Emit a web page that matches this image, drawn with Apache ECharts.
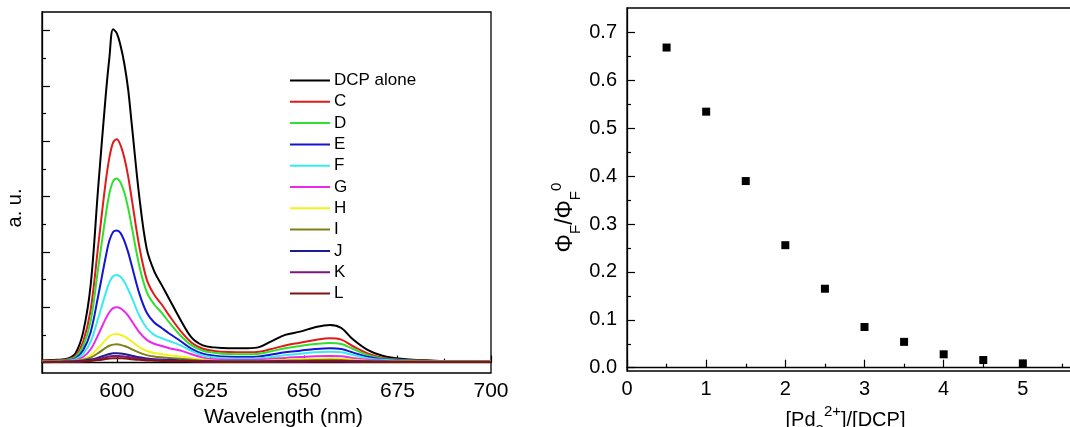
<!DOCTYPE html>
<html>
<head>
<meta charset="utf-8">
<script src="https://cdn.jsdelivr.net/npm/echarts@6/dist/echarts.min.js"></script>
<style>html,body{margin:0;padding:0;background:#fff;}#c{width:1070px;height:427px;}</style>
</head>
<body>
<div id="c"></div>
<script>
// ---------- Data (left panel: emission spectra) ----------
const wavelengths = [580,584,587,589,591,593,595,597,598,599,600,601,602,603,604,606,608,610,612,614,617,620,623,626,630,635,638,641,645,649,653,657,660,663,667,671,676,685,700];
const dcpAlone = [0.08,0.10,0.15,0.35,1.1,2.8,6.3,9.6,11.0,12.05,11.9,11.45,10.8,9.9,8.6,6.0,4.1,3.3,2.8,2.3,1.55,0.9,0.62,0.55,0.52,0.52,0.56,0.75,1.0,1.12,1.28,1.36,1.25,0.85,0.46,0.25,0.14,0.07,0.05];
const specC = [0.07,0.08,0.12,0.25,0.75,1.9,4.2,6.5,7.4,7.95,8.07,7.85,7.4,6.75,5.9,4.2,3.0,2.45,2.1,1.7,1.15,0.72,0.5,0.42,0.38,0.37,0.39,0.48,0.62,0.72,0.82,0.88,0.83,0.6,0.33,0.18,0.1,0.06,0.05];
const specD = [0.06,0.07,0.1,0.2,0.6,1.5,3.4,5.3,6.1,6.55,6.65,6.5,6.15,5.6,4.9,3.5,2.55,2.1,1.8,1.45,0.98,0.62,0.43,0.36,0.31,0.30,0.32,0.40,0.52,0.6,0.67,0.71,0.67,0.5,0.28,0.15,0.09,0.05,0.05];
const specE = [0.05,0.06,0.08,0.15,0.45,1.1,2.4,3.8,4.4,4.72,4.77,4.68,4.4,4.0,3.5,2.5,1.8,1.45,1.25,1.05,0.78,0.5,0.32,0.25,0.21,0.2,0.22,0.28,0.37,0.43,0.49,0.52,0.49,0.37,0.21,0.12,0.08,0.05,0.05];
const specF = [0.05,0.05,0.07,0.12,0.32,0.75,1.6,2.5,2.9,3.12,3.17,3.1,2.92,2.65,2.35,1.7,1.25,1.0,0.88,0.78,0.62,0.42,0.26,0.19,0.15,0.15,0.16,0.2,0.27,0.32,0.37,0.39,0.37,0.28,0.16,0.1,0.07,0.05,0.05];
const specG = [0.04,0.05,0.06,0.09,0.2,0.48,1.0,1.58,1.82,1.97,2.0,1.96,1.85,1.7,1.5,1.1,0.82,0.68,0.6,0.52,0.44,0.3,0.18,0.12,0.09,0.09,0.1,0.13,0.17,0.2,0.23,0.24,0.23,0.17,0.1,0.07,0.05,0.04,0.04];
const specH = [0.04,0.04,0.05,0.07,0.12,0.26,0.52,0.82,0.95,1.02,1.03,1.0,0.95,0.86,0.76,0.56,0.42,0.35,0.31,0.27,0.22,0.16,0.1,0.07,0.06,0.06,0.06,0.08,0.1,0.12,0.14,0.15,0.14,0.1,0.07,0.05,0.04,0.04,0.04];
const specI = [0.04,0.04,0.05,0.06,0.1,0.18,0.34,0.53,0.61,0.65,0.66,0.64,0.6,0.55,0.48,0.36,0.27,0.22,0.19,0.17,0.14,0.1,0.07,0.05,0.05,0.05,0.05,0.06,0.07,0.08,0.09,0.1,0.09,0.07,0.05,0.04,0.04,0.04,0.04];
const specJ = [0.03,0.03,0.04,0.05,0.07,0.11,0.18,0.27,0.31,0.34,0.34,0.33,0.31,0.28,0.25,0.19,0.15,0.12,0.11,0.1,0.08,0.06,0.05,0.04,0.04,0.04,0.04,0.04,0.05,0.05,0.06,0.06,0.06,0.05,0.04,0.04,0.03,0.03,0.03];
const specK = [0.02,0.02,0.03,0.04,0.05,0.08,0.13,0.19,0.22,0.24,0.24,0.23,0.22,0.2,0.18,0.14,0.11,0.09,0.08,0.07,0.06,0.05,0.04,0.03,0.03,0.03,0.03,0.03,0.04,0.04,0.05,0.05,0.05,0.04,0.03,0.03,0.02,0.02,0.02];
const specL = [0.02,0.02,0.02,0.03,0.04,0.06,0.09,0.13,0.15,0.16,0.16,0.16,0.15,0.14,0.12,0.1,0.08,0.07,0.06,0.05,0.05,0.04,0.03,0.03,0.02,0.02,0.02,0.03,0.03,0.03,0.04,0.04,0.04,0.03,0.03,0.02,0.02,0.02,0.02];
const seriesNames = ['DCP alone','C','D','E','F','G','H','I','J','K','L'];
const seriesValues = [dcpAlone,specC,specD,specE,specF,specG,specH,specI,specJ,specK,specL];
const seriesColors = ['#000000','#e21a1a','#2fe02f','#1414d2','#36ecf0','#ec28ec','#f2f21e','#808018','#1c1c90','#7e167e','#801414'];
const wlMajorTicks = [600,625,650,675,700];
const wlMinorTicks = [587.5,612.5,637.5,662.5,687.5];
const auMajorTicks = [0,2,4,6,8,10,12];
const auMinorTicks = [1,3,5,7,9,11];

// ---------- Data (right panel: quantum yield ratio) ----------
const ratioX = [0.5,1,1.5,2,2.5,3,3.5,4,4.5,5];
const ratioY = [0.669,0.535,0.390,0.256,0.165,0.085,0.054,0.028,0.016,0.009];
const ratioMajorTicks = [0,0.1,0.2,0.3,0.4,0.5,0.6,0.7];
const ratioMinorTicks = [0.05,0.15,0.25,0.35,0.45,0.55,0.65];

const FONT = 'Liberation Sans, Arial, sans-serif';
const axisLine = {show:true, lineStyle:{color:'#000', width:1.3}};

const lineSeries = seriesNames.map((n,i)=>({
  name:n, type:'line', xAxisIndex:0, yAxisIndex:0,
  data: wavelengths.map((w,k)=>[w, seriesValues[i][k]]),
  symbol:'none', smooth:0.35,
  lineStyle:{color:seriesColors[i], width:2},
  itemStyle:{color:seriesColors[i]},
  z: 2 + i
}));

const option = {
  animation:false,
  backgroundColor:'#fff',
  textStyle:{fontFamily:FONT},
  legend:{
    data:seriesNames, orient:'vertical', left:290, top:72, padding:0,
    icon:'rect', itemWidth:40, itemHeight:2, itemGap:4.3,
    textStyle:{fontSize:17, color:'#000', fontFamily:FONT, lineHeight:17, padding:[0,0,0,-1]}
  },
  grid:[
    {left:42, top:12, width:449, height:361, show:true, borderColor:'#000', borderWidth:1.3, outerBoundsMode:'none'},
    {left:627, top:8, width:475, height:363, show:true, borderColor:'#000', borderWidth:1.3, outerBoundsMode:'none'}
  ],
  xAxis:[
    {gridIndex:0, type:'value', min:580, max:700, position:'bottom',
      axisLine:axisLine, splitLine:{show:false},
      axisTick:{show:true, inside:true, length:7, customValues:wlMajorTicks, lineStyle:{color:'#000', width:1.2}},
      axisLabel:{show:true, customValues:wlMajorTicks, fontSize:21, color:'#000', margin:8, fontFamily:FONT},
      name:'Wavelength (nm)', nameLocation:'middle', nameGap:32,
      nameTextStyle:{fontSize:21, color:'#000', fontFamily:FONT, padding:[0,0,0,34]}
    },
    {gridIndex:0, type:'value', min:580, max:700, position:'bottom',
      axisLine:{show:false}, splitLine:{show:false}, axisLabel:{show:false},
      axisTick:{show:true, inside:true, length:4, customValues:wlMinorTicks, lineStyle:{color:'#000', width:1.2}}
    },
    {gridIndex:1, type:'value', min:0, max:6, interval:1, position:'bottom',
      axisLine:axisLine, splitLine:{show:false},
      axisTick:{show:true, inside:true, length:8, lineStyle:{color:'#000', width:1.2}},
      minorTick:{show:true, splitNumber:2, length:4, lineStyle:{color:'#000', width:1.2}},
      axisLabel:{show:true, fontSize:20, color:'#000', margin:8, fontFamily:FONT},
      name:'{n|[Pd}{sb|3}{sp|2+}{n|]/[DCP]}', nameLocation:'middle', nameGap:28,
      nameTextStyle:{color:'#000', fontFamily:FONT, padding:[0,38,0,0],
        rich:{
          n:{fontSize:20, lineHeight:34, verticalAlign:'middle', color:'#000', fontFamily:FONT},
          sb:{fontSize:15, lineHeight:15, verticalAlign:'bottom', color:'#000', fontFamily:FONT},
          sp:{fontSize:15, lineHeight:15, verticalAlign:'top', color:'#000', fontFamily:FONT}
        }}
    }
  ],
  yAxis:[
    {gridIndex:0, type:'value', min:-0.376, max:12.67, position:'left',
      axisLine:axisLine, splitLine:{show:false}, axisLabel:{show:false},
      axisTick:{show:true, inside:true, length:8, customValues:auMajorTicks, lineStyle:{color:'#000', width:1.2}},
      name:'a. u.', nameLocation:'middle', nameGap:17,
      nameTextStyle:{fontSize:20, color:'#000', fontFamily:FONT, padding:[0,31,0,0]}
    },
    {gridIndex:0, type:'value', min:-0.376, max:12.67, position:'left',
      axisLine:{show:false}, splitLine:{show:false}, axisLabel:{show:false},
      axisTick:{show:true, inside:true, length:4, customValues:auMinorTicks, lineStyle:{color:'#000', width:1.2}}
    },
    {gridIndex:1, type:'value', min:-0.0069, max:0.7516, position:'left',
      axisLine:axisLine, splitLine:{show:false},
      axisTick:{show:true, inside:true, length:8, customValues:ratioMajorTicks, lineStyle:{color:'#000', width:1.2}},
      axisLabel:{show:true, customValues:ratioMajorTicks, fontSize:20, color:'#000', margin:10, fontFamily:FONT,
        formatter:v=>v.toFixed(1)},
      name:'{n|Φ}{sb|F}{n|/Φ}{sb|F}{sp|0}', nameLocation:'middle', nameGap:44,
      nameTextStyle:{color:'#000', fontFamily:FONT, padding:[0,56,0,0],
        rich:{
          n:{fontSize:23, lineHeight:34, verticalAlign:'middle', color:'#000', fontFamily:FONT},
          sb:{fontSize:15, lineHeight:15, verticalAlign:'bottom', color:'#000', fontFamily:FONT},
          sp:{fontSize:15, lineHeight:15, verticalAlign:'top', color:'#000', fontFamily:FONT}
        }}
    },
    {gridIndex:1, type:'value', min:-0.0069, max:0.7516, position:'left',
      axisLine:{show:false}, splitLine:{show:false}, axisLabel:{show:false},
      axisTick:{show:true, inside:true, length:4, customValues:ratioMinorTicks, lineStyle:{color:'#000', width:1.2}}
    }
  ],
  series: lineSeries.concat([
    {name:'ΦF/ΦF0', type:'scatter', xAxisIndex:2, yAxisIndex:2,
      data: ratioX.map((x,i)=>[x, ratioY[i]]),
      symbol:'rect', symbolSize:8, itemStyle:{color:'#000', opacity:1}}
  ])
};
const chart = echarts.init(document.getElementById('c'), null, {renderer:'canvas'});
chart.setOption(option);
</script>
</body>
</html>
